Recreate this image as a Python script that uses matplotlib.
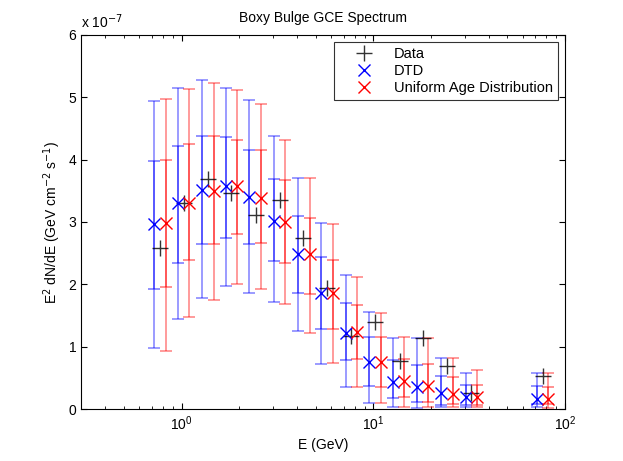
import matplotlib
matplotlib.use("Agg")
import matplotlib.pyplot as plt
import numpy as np

plt.rcParams['font.family'] = ['Liberation Sans', 'DejaVu Sans']

# values in units of 1e-7 GeV cm^-2 s^-1
data_E = [0.77, 1.03, 1.37, 1.82, 2.43, 3.25, 4.31, 5.74, 7.66, 10.2, 13.7, 18.2, 24.3, 32.4, 76.4]
data_flux = [2.58, 3.30, 3.69, 3.46, 3.11, 3.35, 2.75, 1.95, 1.18, 1.40, 0.78, 1.15, 0.69, 0.27, 0.53]

dtd_E = [0.716, 0.957, 1.271, 1.696, 2.25, 3.03, 4.04, 5.36, 7.19, 9.49, 12.7, 16.9, 22.6, 30.3, 71.3]
dtd_flux = [2.96, 3.30, 3.51, 3.58, 3.40, 3.01, 2.48, 1.87, 1.23, 0.76, 0.44, 0.36, 0.26, 0.19, 0.16]
dtd_in_hi = [3.98, 4.22, 4.38, 4.36, 4.15, 3.69, 3.10, 2.44, 1.70, 1.16, 0.79, 0.71, 0.53, 0.39, 0.37]
dtd_in_lo = [1.93, 2.35, 2.64, 2.75, 2.65, 2.37, 1.87, 1.28, 0.79, 0.38, 0.18, 0.11, 0.07, 0.07, 0.085]
dtd_out_hi = [4.94, 5.14, 5.27, 5.15, 4.96, 4.37, 3.71, 2.99, 2.15, 1.56, 1.15, 1.15, 0.83, 0.59, 0.59]
dtd_out_lo = [0.99, 1.44, 1.78, 1.97, 1.87, 1.72, 1.25, 0.73, 0.36, 0.10, 0.03, 0.02, 0.03, 0.03, 0.03]

uni_E = [0.825, 1.10, 1.47, 1.95, 2.60, 3.46, 4.65, 6.17, 8.23, 11.0, 14.5, 19.4, 25.9, 34.7, 81.3]
uni_flux = [2.98, 3.30, 3.50, 3.58, 3.38, 3.00, 2.48, 1.86, 1.24, 0.76, 0.46, 0.37, 0.25, 0.19, 0.16]
uni_in_hi = [4.00, 4.25, 4.38, 4.32, 4.15, 3.67, 3.06, 2.39, 1.67, 1.16, 0.80, 0.72, 0.52, 0.39, 0.36]
uni_in_lo = [1.96, 2.39, 2.65, 2.80, 2.66, 2.35, 1.85, 1.28, 0.81, 0.36, 0.19, 0.12, 0.08, 0.07, 0.09]
uni_out_hi = [4.97, 5.13, 5.23, 5.11, 4.89, 4.31, 3.70, 2.97, 2.12, 1.55, 1.16, 1.14, 0.82, 0.63, 0.59]
uni_out_lo = [0.94, 1.48, 1.75, 2.00, 1.93, 1.69, 1.23, 0.74, 0.36, 0.10, 0.04, 0.03, 0.04, 0.03, 0.02]


def model_bars(ax, E, flux, in_lo, in_hi, out_lo, out_hi, color):
    flux = np.array(flux)
    outer = [flux - np.array(out_lo), np.array(out_hi) - flux]
    inner = [flux - np.array(in_lo), np.array(in_hi) - flux]
    ax.errorbar(E, flux, yerr=outer, fmt='none', ecolor=color, elinewidth=1.1,
                capsize=4.5, capthick=1.1, alpha=0.5)
    ax.errorbar(E, flux, yerr=inner, fmt='none', ecolor=color, elinewidth=1.1,
                capsize=4.5, capthick=1.1, alpha=0.55)


fig = plt.figure(figsize=(6.23, 4.61), dpi=100)
ax = fig.add_axes([0.1305, 0.112, 0.7765, 0.813])

model_bars(ax, dtd_E, dtd_flux, dtd_in_lo, dtd_in_hi, dtd_out_lo, dtd_out_hi, 'blue')
model_bars(ax, uni_E, uni_flux, uni_in_lo, uni_in_hi, uni_out_lo, uni_out_hi, 'red')

ax.plot(data_E, data_flux, '+', color='black', markersize=11, markeredgewidth=1.0, alpha=0.8, label='Data')
ax.plot(dtd_E, dtd_flux, 'x', color='blue', markersize=9, markeredgewidth=1.0, label='DTD')
ax.plot(uni_E, uni_flux, 'x', color='red', markersize=9, markeredgewidth=1.0, label='Uniform Age Distribution')

ax.set_xscale('log')
ax.set_xlim(0.3, 100)
ax.set_ylim(0, 6)
ax.set_yticks([0, 1, 2, 3, 4, 5, 6])
ax.tick_params(which='both', direction='in', top=True, right=True, labelsize=10)
ax.tick_params(which='major', length=4)
ax.tick_params(which='minor', length=2)

ax.text(0.0, 1.01, r'x 10$^{-7}$', transform=ax.transAxes, fontsize=10, ha='left', va='bottom')
ax.set_title('Boxy Bulge GCE Spectrum', fontsize=10, pad=9)
ax.set_xlabel('E (GeV)', fontsize=10)
ax.set_ylabel(r'E$^2$ dN/dE (GeV cm$^{-2}$ s$^{-1}$)', fontsize=10)

leg = ax.legend(loc='upper right', fancybox=False, edgecolor='black', fontsize=10.5,
                borderaxespad=0.5, handlelength=3.4, handletextpad=0.35,
                borderpad=0.35, labelspacing=0.2)
leg.get_frame().set_linewidth(0.8)

fig.savefig('out.png', dpi=100)
